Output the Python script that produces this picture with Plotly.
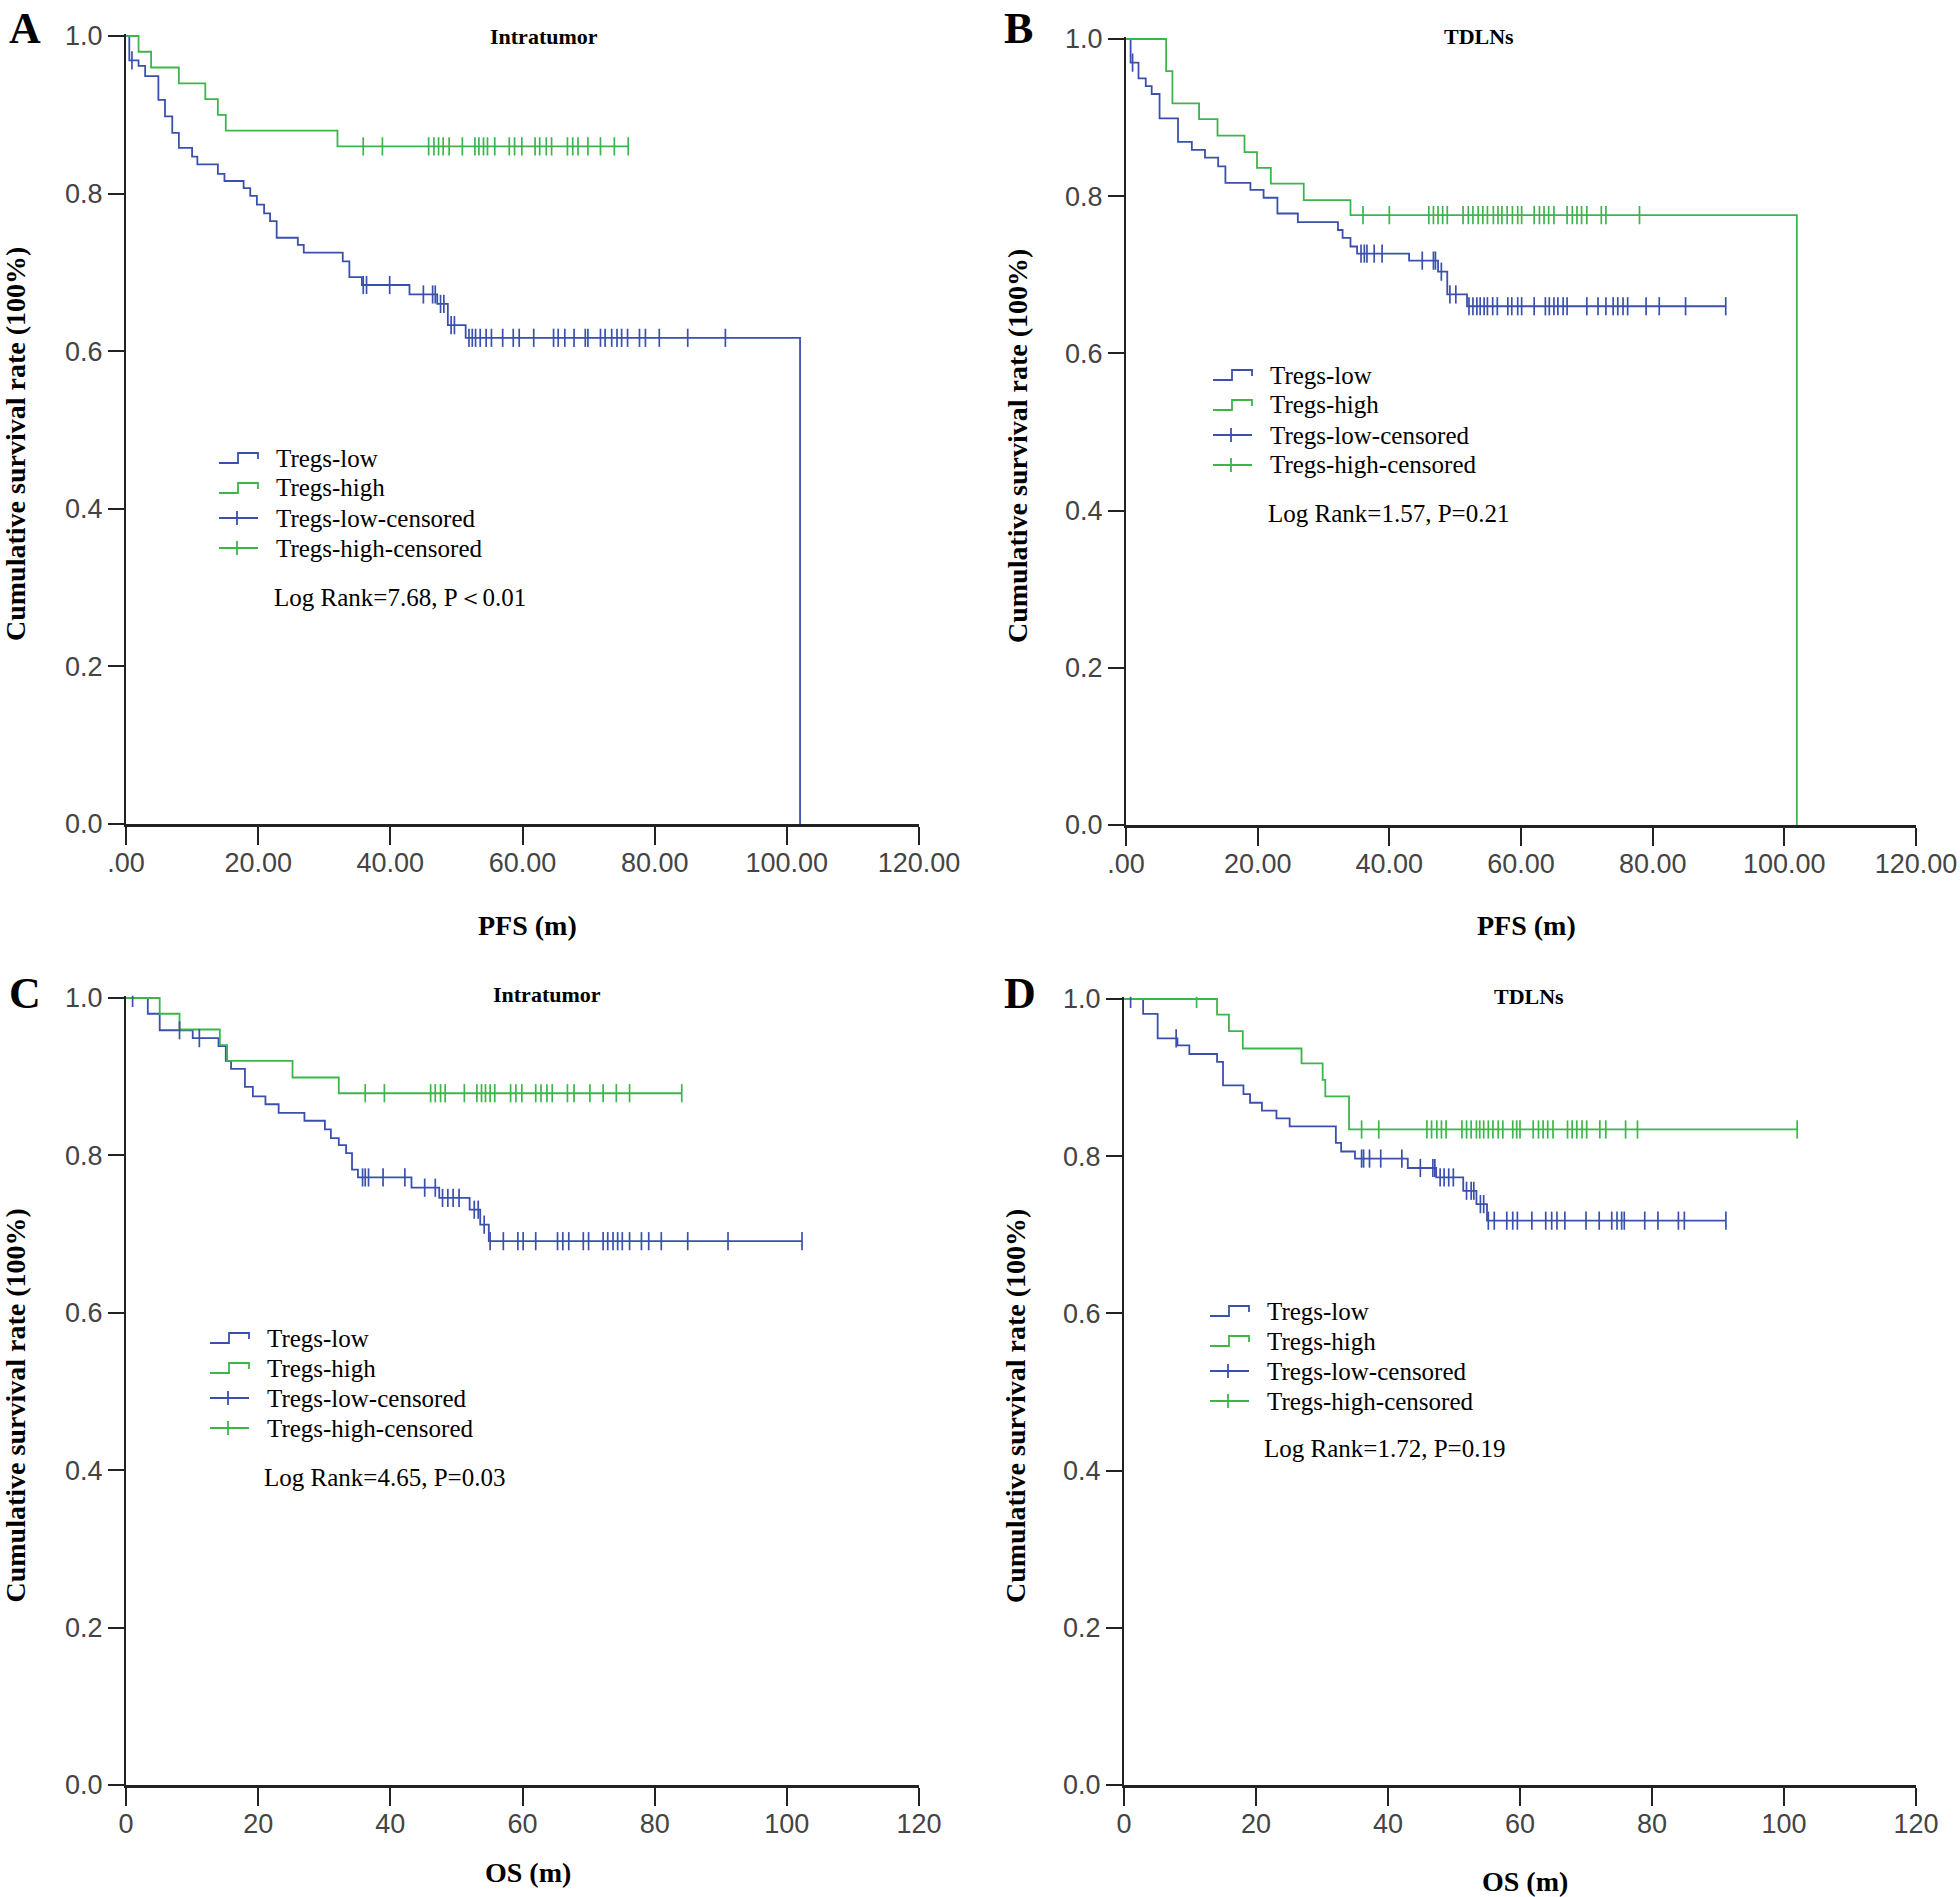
import bisect
import plotly.graph_objects as go

LOW_COLOR = '#3b50ae'
HIGH_COLOR = '#3cb54b'
SERIF = 'Liberation Serif'
TICK_FONT = 'Liberation Sans'

# ---- A: PFS, intratumor ----
a_low_time = [0, 0.5, 1.9, 2.9, 4.9, 5.9, 7.0, 8.0, 10.0, 10.8, 13.9, 14.9, 17.8, 18.8, 19.8,
              20.9, 21.8, 22.8, 26.0, 26.9, 32.8, 33.8, 35.7, 42.9, 47.1, 48.7, 51.4, 102.0]
a_low_surv = [1.0, 0.969, 0.962, 0.949, 0.919, 0.898, 0.877, 0.858, 0.847, 0.837, 0.825, 0.816,
              0.807, 0.797, 0.786, 0.775, 0.765, 0.744, 0.735, 0.725, 0.714, 0.694, 0.684, 0.672,
              0.660, 0.633, 0.617, 0.0]
a_low_cens = [0.9, 35.9, 36.4, 39.9, 45.0, 46.4, 46.8, 47.6, 48.1, 49.2, 49.7, 51.9, 52.4, 52.9,
              53.6, 54.5, 55.3, 57.0, 58.6, 59.5, 61.7, 64.7, 65.4, 66.4, 67.8, 69.5, 69.9, 71.8,
              72.5, 73.5, 74.3, 75.0, 75.9, 77.7, 78.6, 80.7, 85.0, 90.7]
a_high_time = [0, 1.9, 3.8, 8.0, 12.0, 13.9, 15.1, 32.0]
a_high_surv = [1.0, 0.98, 0.96, 0.94, 0.92, 0.90, 0.88, 0.86]
a_high_cens = [35.9, 38.8, 45.8, 46.6, 47.3, 48.0, 48.9, 50.9, 52.8, 53.4, 54.1, 54.7, 55.8, 58.0,
               58.8, 59.9, 61.9, 62.6, 63.6, 64.4, 66.8, 67.6, 68.4, 69.9, 71.8, 73.9, 76.0]

# ---- B: PFS, TDLNs ----
b_low_time = [0, 0.7, 1.9, 3.0, 3.9, 5.1, 7.9, 10.0, 12.0, 14.0, 15.1, 18.9, 20.9, 23.0, 26.1,
              32.2, 32.9, 34.1, 35.1, 43.0, 47.4, 48.8, 51.8]
b_low_surv = [1.0, 0.970, 0.950, 0.940, 0.930, 0.899, 0.869, 0.859, 0.849, 0.838, 0.817, 0.808,
              0.798, 0.778, 0.767, 0.757, 0.747, 0.736, 0.727, 0.718, 0.704, 0.675, 0.660]
b_low_cens = [1.0, 35.7, 36.2, 36.6, 37.7, 38.9, 45.0, 46.7, 47.0, 47.9, 49.2, 50.1, 52.1, 52.7,
              53.3, 53.8, 54.4, 54.9, 55.7, 56.4, 58.0, 58.6, 59.5, 60.1, 62.0, 63.7, 64.3, 65.0,
              65.6, 66.4, 67.0, 70.0, 71.7, 72.9, 74.0, 74.7, 75.5, 76.2, 79.0, 81.0, 85.0, 91.1]
b_high_time = [0, 6.1, 7.05, 11.1, 13.9, 18.0, 19.9, 22.0, 27.0, 34.1, 101.9]
b_high_surv = [1.0, 0.959, 0.918, 0.898, 0.877, 0.856, 0.836, 0.816, 0.795, 0.776, 0.0]
b_high_cens = [36.0, 40.0, 46.0, 46.7, 47.4, 48.1, 48.8, 51.2, 52.0, 52.7, 53.5, 54.2, 54.9, 55.8,
               56.5, 57.1, 57.9, 58.7, 59.5, 60.1, 62.0, 62.8, 63.5, 64.2, 65.0, 67.0, 67.8, 68.5,
               69.2, 70.0, 72.2, 72.9, 78.0]

# ---- C: OS, intratumor ----
c_low_time = [0, 3.3, 5.1, 10.1, 14.0, 15.1, 15.9, 18.0, 19.2, 21.1, 23.1, 27.0, 30.1, 31.0, 32.2,
              33.3, 34.2, 35.1, 43.2, 47.4, 52.0, 53.6, 54.9]
c_low_surv = [1.0, 0.980, 0.959, 0.949, 0.939, 0.920, 0.910, 0.887, 0.875, 0.865, 0.854, 0.844,
              0.833, 0.822, 0.813, 0.803, 0.782, 0.772, 0.759, 0.746, 0.731, 0.712, 0.691]
c_low_cens = [1.0, 8.1, 11.1, 35.8, 36.2, 36.7, 38.9, 42.2, 45.2, 46.8, 47.9, 48.7, 49.5, 50.4,
              52.7, 53.3, 54.2, 55.1, 57.1, 59.3, 60.1, 62.0, 65.3, 66.1, 67.0, 69.2, 70.0, 72.2,
              72.9, 73.7, 74.4, 75.1, 76.2, 78.0, 79.1, 81.0, 85.0, 91.1, 102.3]
c_high_time = [0, 5.1, 8.1, 14.2, 15.3, 25.2, 32.2]
c_high_surv = [1.0, 0.980, 0.960, 0.940, 0.920, 0.899, 0.879]
c_high_cens = [36.2, 39.1, 46.1, 46.8, 47.6, 48.3, 51.2, 53.1, 53.8, 54.4, 55.1, 55.8, 58.2, 59.0,
               59.9, 62.0, 62.8, 63.7, 64.5, 66.8, 67.8, 70.2, 72.2, 74.2, 76.2, 84.1]

# ---- D: OS, TDLNs ----
d_low_time = [0, 2.9, 5.1, 8.1, 9.9, 14.1, 15.0, 18.1, 19.1, 20.9, 23.1, 25.1, 32.1, 32.9, 35.0,
              43.0, 47.3, 51.4, 53.4, 55.0]
d_low_surv = [1.0, 0.981, 0.950, 0.941, 0.930, 0.920, 0.890, 0.879, 0.868, 0.858, 0.848, 0.838,
              0.817, 0.806, 0.797, 0.785, 0.773, 0.756, 0.739, 0.718]
d_low_cens = [1.0, 7.9, 36.0, 36.3, 37.2, 38.9, 42.1, 44.9, 46.8, 47.1, 47.9, 48.5, 49.2, 49.9,
              51.9, 52.6, 53.0, 54.0, 54.5, 55.2, 56.1, 58.0, 58.9, 59.6, 61.8, 63.9, 64.8, 65.6,
              66.8, 70.0, 72.0, 73.9, 74.7, 75.4, 75.8, 78.9, 80.9, 84.0, 84.9, 91.2]
d_high_time = [0, 14.1, 15.9, 18.0, 26.9, 30.1, 30.5, 34.1]
d_high_surv = [1.0, 0.980, 0.959, 0.937, 0.918, 0.897, 0.876, 0.834]
d_high_cens = [11.0, 36.0, 38.6, 45.9, 46.6, 47.4, 48.1, 48.8, 51.2, 51.9, 52.6, 53.4, 53.9, 54.5,
               55.2, 55.9, 56.7, 57.4, 58.9, 59.5, 60.0, 62.0, 62.8, 63.5, 64.2, 65.0, 67.2, 67.9,
               68.6, 69.4, 70.1, 72.1, 73.0, 76.0, 77.8, 102.0]

group_names = ['Tregs-low', 'Tregs-high', 'Tregs-low-censored', 'Tregs-high-censored']
group_colors = [LOW_COLOR, HIGH_COLOR, LOW_COLOR, HIGH_COLOR]
panel_letters = ['A', 'B', 'C', 'D']
panel_titles = ['Intratumor', 'TDLNs', 'Intratumor', 'TDLNs']
x_titles = ['PFS (m)', 'PFS (m)', 'OS (m)', 'OS (m)']
log_rank = ['Log Rank=7.68, P\uff1c0.01', 'Log Rank=1.57, P=0.21',
            'Log Rank=4.65, P=0.03', 'Log Rank=1.72, P=0.19']
x_tickvals = [0, 20, 40, 60, 80, 100, 120]
pfs_ticktext = ['.00', '20.00', '40.00', '60.00', '80.00', '100.00', '120.00']
os_ticktext = ['0', '20', '40', '60', '80', '100', '120']
y_tickvals = [0, 0.2, 0.4, 0.6, 0.8, 1.0]
y_ticktext = ['0.0', '0.2', '0.4', '0.6', '0.8', '1.0']

panels = [
    (a_low_time, a_low_surv, a_low_cens, a_high_time, a_high_surv, a_high_cens, pfs_ticktext),
    (b_low_time, b_low_surv, b_low_cens, b_high_time, b_high_surv, b_high_cens, pfs_ticktext),
    (c_low_time, c_low_surv, c_low_cens, c_high_time, c_high_surv, c_high_cens, os_ticktext),
    (d_low_time, d_low_surv, d_low_cens, d_high_time, d_high_surv, d_high_cens, os_ticktext),
]

# layout in pixels: (x of month 0, x of month 120, y of 0.0, y of 1.0)
W, H = 1960, 1897
axes_px = [(126, 919, 824, 36), (1126, 1916, 825, 39), (126, 919, 1785, 998), (1124, 1916, 1785, 999)]
legend_px = [(274, 458), (1268, 375), (265, 1338), (1265, 1311)]   # text left, first row centre
lograng_px = [(272, 597), (1266, 513), (262, 1477), (1262, 1448)]
letter_px = [(25, 2), (1019, 2), (25, 967), (1020, 967)]            # centre x, top y
title_px = [(544, 36), (1479, 37), (547, 995), (1529, 996)]
ytitle_px = [15, 1017, 15, 1015]
xtitle_px = [925, 926, 1872, 1881]
ROW = 30
YTOP = 1.003


def px(x, y):
    return x / W, 1 - y / H


def curve(times, surv, cens):
    xs, ys = list(times), list(surv)
    if cens and max(cens) > xs[-1]:
        xs.append(max(cens))
        ys.append(ys[-1])
    return xs, ys


def level_at(times, surv, t):
    return surv[bisect.bisect_right(times, t) - 1]


def text_ann(x, y, text, size, anchor='left', bold=False, angle=0, yanchor='middle'):
    ax, ay = px(x, y)
    font = dict(family=SERIF, size=size, color='black')
    if bold:
        font['weight'] = 'bold'
    return dict(x=ax, y=ay, xref='paper', yref='paper', xanchor=anchor, yanchor=yanchor,
                text=text, showarrow=False, font=font, textangle=angle)


def legend_glyph(x, y, kind, color):
    # small step / plus icon in pixel space, converted to paper coords
    if kind == 'step':
        pts = [(x, y + 5), (x + 19, y + 5), (x + 19, y - 5), (x + 39, y - 5), (x + 39, y + 1)]
        path = 'M' + ' L'.join('%.5f,%.5f' % px(a, b) for a, b in pts)
        return [dict(type='path', xref='paper', yref='paper', path=path,
                     line=dict(color=color, width=1.8))]
    h = [px(x, y), px(x + 39, y)]
    v = [px(x + 18, y - 7), px(x + 18, y + 7)]
    return [dict(type='line', xref='paper', yref='paper', x0=a[0], y0=a[1], x1=b[0], y1=b[1],
                 line=dict(color=color, width=1.8)) for a, b in (h, v)]


fig = go.Figure()
layout = dict(width=W, height=H, margin=dict(l=0, r=0, t=0, b=0, autoexpand=False),
              paper_bgcolor='white', plot_bgcolor='white', showlegend=False)
annotations = []
shapes = []

for i, (lt, ls, lc, ht, hs, hc, xtext) in enumerate(panels):
    n = '' if i == 0 else str(i + 1)
    xref, yref = 'x' + n, 'y' + n
    x0, x1, y0, y1 = axes_px[i]
    top = y1 - (YTOP - 1) * (y0 - y1)

    lx, ly = curve(lt, ls, lc)
    hx, hy = curve(ht, hs, hc)
    fig.add_trace(go.Scatter(x=lx, y=ly, mode='lines', line=dict(color=LOW_COLOR, width=1.8, shape='hv'),
                             name=group_names[0], xaxis=xref, yaxis=yref))
    fig.add_trace(go.Scatter(x=hx, y=hy, mode='lines', line=dict(color=HIGH_COLOR, width=1.8, shape='hv'),
                             name=group_names[1], xaxis=xref, yaxis=yref))
    fig.add_trace(go.Scatter(x=lc, y=[level_at(lt, ls, t) for t in lc], mode='markers',
                             marker=dict(symbol='line-ns', size=13, line=dict(color=LOW_COLOR, width=1.7)),
                             name=group_names[2], xaxis=xref, yaxis=yref))
    fig.add_trace(go.Scatter(x=hc, y=[level_at(ht, hs, t) for t in hc], mode='markers',
                             marker=dict(symbol='line-ns', size=13, line=dict(color=HIGH_COLOR, width=1.7)),
                             name=group_names[3], xaxis=xref, yaxis=yref))

    layout['xaxis' + n] = dict(
        domain=[x0 / W, x1 / W], anchor=yref, range=[0, 120], automargin=False,
        tickvals=x_tickvals, ticktext=xtext, ticks='outside', ticklen=18, tickwidth=2, tickcolor='#222',
        showline=True, linewidth=3, linecolor='#222', showgrid=False, zeroline=False,
        ticklabelstandoff=-5, tickfont=dict(family=TICK_FONT, size=27, color='#444'))
    layout['yaxis' + n] = dict(
        domain=[1 - y0 / H, 1 - top / H], anchor=xref, range=[0, YTOP], automargin=False,
        tickvals=y_tickvals, ticktext=y_ticktext, ticks='outside', ticklen=16, tickwidth=1.6, tickcolor='#222',
        showline=True, linewidth=2, linecolor='#222', showgrid=False, zeroline=False,
        tickfont=dict(family=TICK_FONT, size=27, color='#444'))

    # axis titles
    annotations.append(text_ann(ytitle_px[i], (y0 + y1) / 2 + 14, 'Cumulative survival rate (100%)', 28,
                                anchor='center', bold=True, angle=-90))
    annotations.append(text_ann((x0 + x1) / 2 + 5, xtitle_px[i], x_titles[i], 28, anchor='center', bold=True))

    # legend: glyph + label per row
    tx, ty = legend_px[i]
    for k, name in enumerate(group_names):
        ry = ty + k * ROW
        shapes += legend_glyph(tx - 55, ry, 'step' if k < 2 else 'plus', group_colors[k])
        annotations.append(text_ann(tx, ry, name, 25))

    annotations.append(text_ann(*lograng_px[i], log_rank[i], 25))
    annotations.append(text_ann(*letter_px[i], panel_letters[i], 44, anchor='center', bold=True, yanchor='top'))
    annotations.append(text_ann(*title_px[i], panel_titles[i], 22, anchor='center', bold=True))

layout['annotations'] = annotations
layout['shapes'] = shapes
fig.update_layout(**layout)
fig.write_html('out.html', config={'displayModeBar': False},
               post_script="document.body.style.margin='0px';document.body.style.overflow='hidden';")
